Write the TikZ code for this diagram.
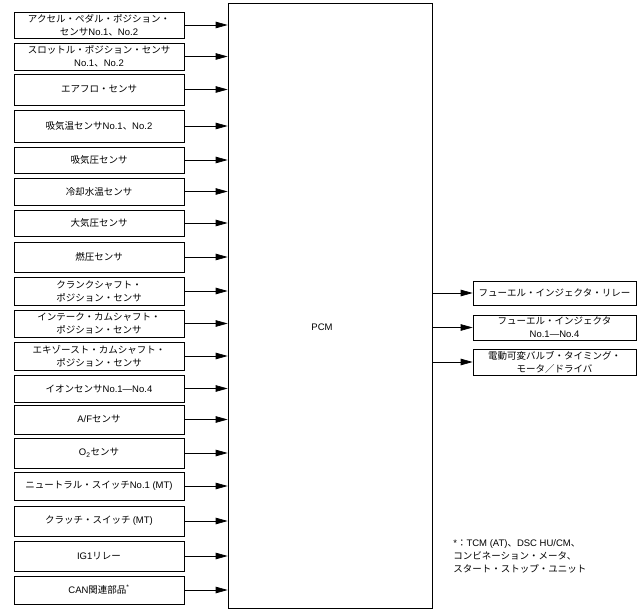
\documentclass[tikz,border=0pt]{standalone}
\usepackage{fontspec}
\setmainfont{Liberation Sans}
\newfontfamily\jpfont{Noto Sans CJK JP}
\usetikzlibrary{arrows.meta}
% switch to the Japanese font for kana, kanji and full-width forms
\newXeTeXintercharclass\jpclass
\count255="3000
\loop\XeTeXcharclass\count255=\jpclass\ifnum\count255<"30FF\advance\count255 by 1\repeat
\count255="4E00
\loop\XeTeXcharclass\count255=\jpclass\ifnum\count255<"9FFF\advance\count255 by 1\repeat
\count255="FF00
\loop\XeTeXcharclass\count255=\jpclass\ifnum\count255<"FFEF\advance\count255 by 1\repeat
\XeTeXinterchartoks 0 \jpclass = {\jpfont}
\XeTeXinterchartoks 4095 \jpclass = {\jpfont}
\XeTeXinterchartoks \jpclass 0 = {\rmfamily}
\XeTeXinterchartoks 4095 0 = {\rmfamily}
\XeTeXinterchartokenstate=1

\begin{document}
\begin{tikzpicture}[x=1pt,y=-1pt,line width=0.7pt,>={Triangle[length=12pt,width=6.5pt]},
  font=\fontsize{9.5}{13}\selectfont,
  sensor/.style={draw,minimum width=170pt,minimum height=#1,inner sep=1pt,align=center},
  actuator/.style={draw,minimum width=163pt,minimum height=#1,inner sep=1pt,align=center}]
\useasboundingbox (0,0) rectangle (640,612);
% ================= PCM =================
\node[draw,minimum width=204pt,minimum height=605pt] (pcm) at (330,305.5) {};
\node (pcmlabel) at (322,327) {PCM};
% ================= inputs (left column) =================
\node[sensor=26pt] (accel)   at (99,25)    {アクセル・ペダル・ポジション・\\センサNo.1、No.2};
\node[sensor=27pt] (throttle) at (99,56.5) {スロットル・ポジション・センサ\\No.1、No.2};
\node[sensor=31pt] (airflow) at (99,89.5)  {エアフロ・センサ};
\node[sensor=32pt] (iat)     at (99,126)   {吸気温センサNo.1、No.2};
\node[sensor=26pt] (map)     at (99,160)   {吸気圧センサ};
\node[sensor=27pt] (ect)     at (99,191.5) {冷却水温センサ};
\node[sensor=26pt] (baro)    at (99,223)   {大気圧センサ};
\node[sensor=30pt] (fuelp)   at (99,257)   {燃圧センサ};
\node[sensor=28pt] (crank)   at (99,291)   {クランクシャフト・\\ポジション・センサ};
\node[sensor=27pt] (incam)   at (99,323.5) {インテーク・カムシャフト・\\ポジション・センサ};
\node[sensor=28pt] (excam)   at (99,356)   {エキゾースト・カムシャフト・\\ポジション・センサ};
\node[sensor=27pt] (ion)     at (99,388.5) {イオンセンサNo.1—No.4};
\node[sensor=29pt] (af)      at (99,419.5) {A/Fセンサ};
\node[sensor=30pt] (otwo)    at (99,453)   {O\textsubscript{2}センサ};
\node[sensor=28pt] (neutral) at (99,486)   {ニュートラル・スイッチNo.1 (MT)};
\node[sensor=30pt] (clutch)  at (99,521)   {クラッチ・スイッチ (MT)};
\node[sensor=30pt] (igone)   at (99,556)   {IG1リレー};
\node[sensor=28pt] (can)     at (99,590)   {CAN関連部品\textsuperscript{*}};
% input arrows into PCM
\draw[->] (accel.east) -- (accel.east -| pcm.west);
\draw[->] (throttle.east) -- (throttle.east -| pcm.west);
\draw[->] (airflow.east) -- (airflow.east -| pcm.west);
\draw[->] (iat.east) -- (iat.east -| pcm.west);
\draw[->] (map.east) -- (map.east -| pcm.west);
\draw[->] (ect.east) -- (ect.east -| pcm.west);
\draw[->] (baro.east) -- (baro.east -| pcm.west);
\draw[->] (fuelp.east) -- (fuelp.east -| pcm.west);
\draw[->] (crank.east) -- (crank.east -| pcm.west);
\draw[->] (incam.east) -- (incam.east -| pcm.west);
\draw[->] (excam.east) -- (excam.east -| pcm.west);
\draw[->] (ion.east) -- (ion.east -| pcm.west);
\draw[->] (af.east) -- (af.east -| pcm.west);
\draw[->] (otwo.east) -- (otwo.east -| pcm.west);
\draw[->] (neutral.east) -- (neutral.east -| pcm.west);
\draw[->] (clutch.east) -- (clutch.east -| pcm.west);
\draw[->] (igone.east) -- (igone.east -| pcm.west);
\draw[->] (can.east) -- (can.east -| pcm.west);
% ================= outputs (right column) =================
\node[actuator=24pt] (injrelay) at (554.5,293)   {フューエル・インジェクタ・リレー};
\node[actuator=25pt] (injector) at (554.5,327.5) {フューエル・インジェクタ\\No.1—No.4};
\node[actuator=26pt] (vvt)      at (554.5,362)   {電動可変バルブ・タイミング・\\モータ／ドライバ};
\draw[->] (pcm.east |- injrelay.west) -- (injrelay.west);
\draw[->] (pcm.east |- injector.west) -- (injector.west);
\draw[->] (pcm.east |- vvt.west) -- (vvt.west);
% footnote
\node[anchor=north west,inner sep=0pt,align=left] (note) at (453,539)
  {*：TCM (AT)、DSC HU/CM、\\コンビネーション・メータ、\\スタート・ストップ・ユニット};
\end{tikzpicture}
\end{document}
